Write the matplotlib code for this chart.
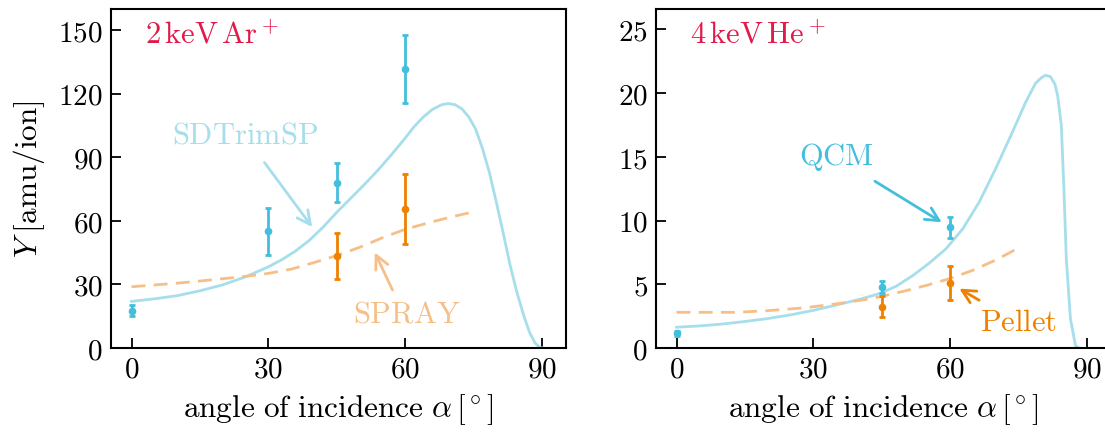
import matplotlib
matplotlib.use("Agg")
import matplotlib.pyplot as plt

plt.rcParams['font.family'] = 'cmr10'
plt.rcParams['mathtext.fontset'] = 'cm'
plt.rcParams['axes.formatter.use_mathtext'] = True

# ---- data: 2 keV Ar+ ----
ar_sim_angle = [0, 5, 10, 15, 20, 25, 30, 33, 36, 39, 42, 45, 48, 51, 54, 57, 60, 62, 64, 66, 68,
                69.5, 71, 72.5, 74, 75.5, 77, 78.5, 80, 81.5, 83, 84.5, 86, 87.3, 88.5, 89.5, 90.2]
ar_sim_yield = [22.0, 23.2, 24.7, 27.0, 29.8, 33.6, 38.3, 41.7, 45.8, 50.8, 57.0, 64.0, 70.5, 77.0,
                83.8, 91.2, 99.0, 104.5, 109.0, 112.6, 114.8, 115.4, 114.8, 112.8, 109.0, 103.2,
                94.0, 82.8, 69.0, 54.5, 39.5, 26.5, 15.5, 7.4, 2.4, 0.4, 0.0]
ar_spray_angle = [0, 10, 15, 20, 25, 30, 35, 40, 45, 50, 55, 60, 65, 70, 74.5]
ar_spray_yield = [28.9, 30.6, 31.6, 32.7, 33.8, 35.2, 37.2, 40.3, 43.6, 47.5, 52.0, 56.0, 59.0, 61.8, 64.0]
ar_qcm_angle = [0, 30, 45, 60]
ar_qcm_yield = [17.6, 55.0, 78.1, 131.8]
ar_qcm_err = [2.5, 11.0, 9.4, 16.0]
ar_pel_angle = [45, 60]
ar_pel_yield = [43.5, 65.8]
ar_pel_err = [11.0, 16.5]

# ---- data: 4 keV He+ ----
he_sim_angle = [0, 5, 10, 15, 20, 25, 30, 35, 40, 44.6, 48.2, 51.9, 55.5, 59.1, 62.8, 66.4, 70.0,
                73.7, 76.6, 78.7, 80.0, 80.9, 82.0, 83.0, 83.6, 84.4, 85.0, 85.5, 86.4, 87.5, 88.2]
he_sim_yield = [1.63, 1.73, 1.88, 2.08, 2.31, 2.6, 2.95, 3.37, 3.8, 4.28, 4.85, 5.7, 6.68, 7.78, 9.36,
                11.45, 14.07, 16.96, 19.3, 20.75, 21.2, 21.4, 21.3, 20.7, 19.8, 17.5, 12.2, 7.0,
                2.3, 0.2, 0.0]
he_spray_angle = [0, 13, 20, 28, 35, 42, 45, 50, 55, 60, 65, 70, 74.4]
he_spray_yield = [2.8, 2.8, 2.93, 3.15, 3.46, 3.83, 4.05, 4.47, 4.93, 5.45, 6.1, 6.9, 7.73]
he_qcm_angle = [0, 45, 60]
he_qcm_yield = [1.15, 4.77, 9.46]
he_qcm_err = [0.2, 0.45, 0.8]
he_pel_angle = [45, 60]
he_pel_yield = [3.25, 5.1]
he_pel_err = [0.8, 1.3]

xticks = [0, 30, 60, 90]
ar_yticks = [0, 30, 60, 90, 120, 150]
he_yticks = [0, 5, 10, 15, 20, 25]

c_pt_blue = '#43bedc'
c_curve_blue = '#a6deec'
c_pt_orange = '#ee8100'
c_dash_orange = '#f7bf88'
c_title = '#e21a4b'

W, H = 1105, 435
fig = plt.figure(figsize=(W / 100, H / 100), dpi=100)
ax1 = fig.add_axes([111 / W, 1 - 349 / H, 455 / W, 339 / H])
ax2 = fig.add_axes([656 / W, 1 - 349 / H, 455 / W, 339 / H])

fs_tick = 21
fs_lab = 22.5
fs_txt = 22

def panel(ax, sa, sy, pa, py, qa, qy, qe, la, ly, le, ylim, yt):
    ax.plot(sa, sy, color=c_curve_blue, lw=2.0, zorder=2)
    ax.plot(pa, py, color=c_dash_orange, lw=2.0, ls=(0, (5, 3)), zorder=2)
    ax.errorbar(qa, qy, yerr=qe, fmt='o', color=c_pt_blue, ms=4.5, capsize=2.5,
                capthick=2, elinewidth=2, zorder=3)
    ax.errorbar(la, ly, yerr=le, fmt='o', color=c_pt_orange, ms=4.5, capsize=2.5,
                capthick=2, elinewidth=2, zorder=3)
    ax.set_xlim(-4.5, 95.3)
    ax.set_ylim(*ylim)
    ax.set_xticks(xticks)
    ax.set_yticks(yt)
    ax.tick_params(direction='in', length=7, width=1.3, labelsize=fs_tick, pad=6)
    for s in ax.spines.values():
        s.set_linewidth(1.5)
    ax.set_xlabel(r'$\mathrm{angle\ of\ incidence}\ \alpha\,[^\circ]$', fontsize=fs_lab, labelpad=6)

panel(ax1, ar_sim_angle, ar_sim_yield, ar_spray_angle, ar_spray_yield,
      ar_qcm_angle, ar_qcm_yield, ar_qcm_err, ar_pel_angle, ar_pel_yield, ar_pel_err,
      (0, 160), ar_yticks)
panel(ax2, he_sim_angle, he_sim_yield, he_spray_angle, he_spray_yield,
      he_qcm_angle, he_qcm_yield, he_qcm_err, he_pel_angle, he_pel_yield, he_pel_err,
      (0, 26.6), he_yticks)

ax1.set_ylabel(r'$Y\;[\mathrm{amu/ion}]$', fontsize=fs_lab, labelpad=8)

ax1.text(0.075, 0.925, r'$2\,\mathrm{keV}\,\mathrm{Ar}^+$', transform=ax1.transAxes,
         color=c_title, fontsize=fs_txt, ha='left', va='center')
ax2.text(0.075, 0.925, r'$4\,\mathrm{keV}\,\mathrm{He}^+$', transform=ax2.transAxes,
         color=c_title, fontsize=fs_txt, ha='left', va='center')

ax1.text(8.8, 100.5, r'$\mathrm{SDTrimSP}$', color=c_curve_blue, fontsize=fs_txt, ha='left', va='center')
ax1.annotate('', xy=(40, 56), xytext=(28.8, 88.6),
             arrowprops=dict(arrowstyle='->', color=c_curve_blue, lw=2, mutation_scale=24))
ax1.text(48.5, 16, r'$\mathrm{SPRAY}$', color=c_dash_orange, fontsize=fs_txt, ha='left', va='center')
ax1.annotate('', xy=(53.1, 46.3), xytext=(57.5, 26.2),
             arrowprops=dict(arrowstyle='->', color=c_dash_orange, lw=2, mutation_scale=24))

ax2.text(26.8, 15.1, r'$\mathrm{QCM}$', color=c_pt_blue, fontsize=fs_txt, ha='left', va='center')
ax2.annotate('', xy=(58.7, 9.75), xytext=(43.0, 13.2),
             arrowprops=dict(arrowstyle='->', color=c_pt_blue, lw=2, mutation_scale=24))
ax2.text(66.5, 2.0, r'$\mathrm{Pellet}$', color=c_pt_orange, fontsize=fs_txt, ha='left', va='center')
ax2.annotate('', xy=(61.5, 4.77), xytext=(66.9, 3.64),
             arrowprops=dict(arrowstyle='->', color=c_pt_orange, lw=2, mutation_scale=24))

fig.savefig('out.png', dpi=100)
